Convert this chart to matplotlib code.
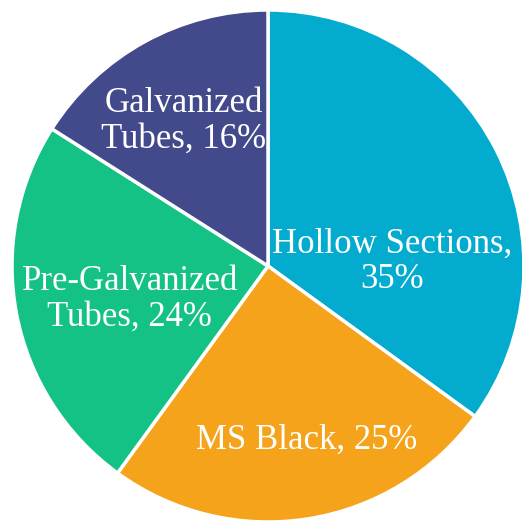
import matplotlib
matplotlib.use("Agg")
import matplotlib.pyplot as plt

labels = ["Hollow Sections,\n35%", "MS Black, 25%", "Pre-Galvanized\nTubes, 24%", "Galvanized\nTubes, 16%"]
shares = [35, 25, 24, 16]
colors = ["#03ACCF", "#F4A31B", "#14C285", "#434A8C"]

# label anchor points (data units, pie radius = 1)
label_pos = [(0.484, 0.016), (0.15, -0.68), (-0.54, -0.13), (-0.33, 0.565)]

fig = plt.figure(figsize=(5.22, 5.22), dpi=100)
ax = fig.add_axes([0, 0, 1, 1])
wedges, _ = ax.pie(shares, colors=colors, startangle=90, counterclock=False,
                   radius=1.0, wedgeprops=dict(edgecolor="white", linewidth=2.5))

for lab, (x, y) in zip(labels, label_pos):
    ax.text(x, y, lab, ha="center", va="center", color="white",
            fontsize=25, family="Liberation Serif", linespacing=1.1)

ax.set_xlim(-268 / 256, -268 / 256 + 522 / 256)
ax.set_ylim(-256 / 256, -256 / 256 + 522 / 256)
ax.set_aspect("equal")
ax.axis("off")

fig.savefig("out.png", dpi=100)
plt.close()
